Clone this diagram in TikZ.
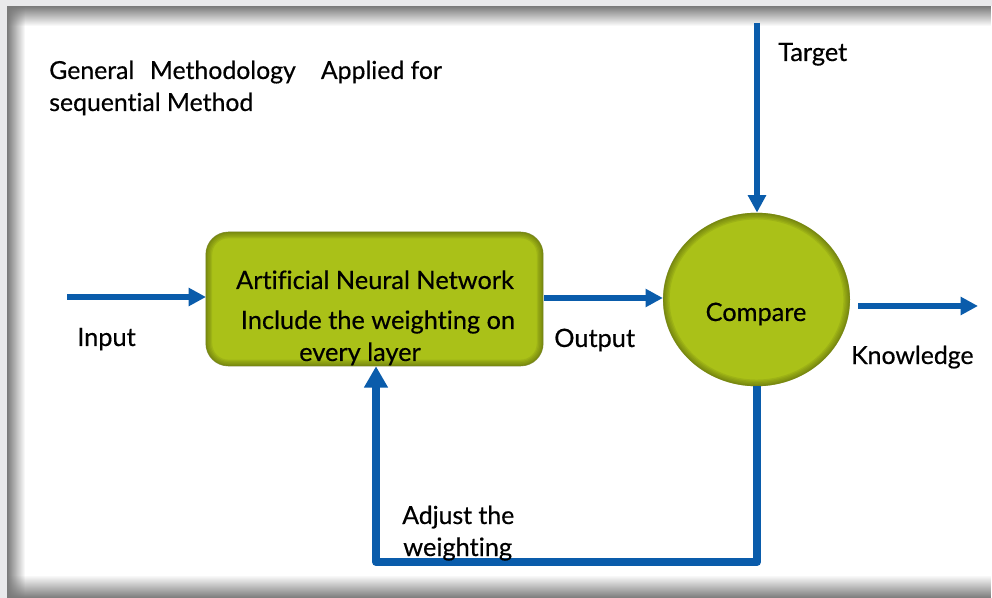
\documentclass[tikz,border=0pt]{standalone}
\usepackage{fontspec}
\setmainfont{Lato}[Ligatures=NoCommon,FakeBold=0.45]
\usetikzlibrary{arrows.meta,shapes.geometric,fadings}
\definecolor{flowblue}{HTML}{0A5CAB}
\definecolor{olive}{HTML}{AAC118}
\definecolor{olivedark}{HTML}{5F6C0E}
\definecolor{pagebg}{HTML}{E9E9EB}
\definecolor{edgegray}{HTML}{7A7A7A}
\tikzset{
  x=0.75pt,y=-0.75pt,
  flowthin/.style={draw=flowblue,line width=4pt,-{Triangle[length=13pt,width=13pt]}},
  flowthick/.style={draw=flowblue,line width=6pt,line join=round,-{Triangle[length=16pt,width=17pt]}},
  lbl/.style={font=\fontsize{19pt}{22pt}\selectfont,text=black,inner sep=0pt,align=left},
  lbls/.style={font=\fontsize{18.6pt}{22pt}\selectfont,text=black,inner sep=0pt,align=left},
  greenbox/.style={fill=olive,rounded corners=17pt,minimum width=253pt,minimum height=100.5pt,inner sep=0pt},
  greencirc/.style={ellipse,fill=olive,minimum width=140pt,minimum height=130pt,inner sep=0pt},
  glow/.style={draw=olivedark,opacity=.16,line width=#1},
}
\begin{document}
\begin{tikzpicture}
\useasboundingbox (0,0) rectangle (992,598);
\fill[pagebg] (0,0) rectangle (992,598);
\fill[white] (7,6) rectangle (992,598);
\fill[edgegray,path fading=south] (7,6) rectangle (992,26);
\fill[edgegray,path fading=east] (7,6) rectangle (25,598);
\fill[edgegray,path fading=north] (7,575) rectangle (992,598);
\node[greenbox] (ann) at (374.5,299) {};
\node[greencirc] (cmp) at (756.5,299.5) {};
\begin{scope}
  \clip[rounded corners=17pt] (ann.south west) rectangle (ann.north east);
  \foreach \w in {1.5pt,2.5pt,4pt,6pt,8pt,10pt}
    \draw[glow=\w,rounded corners=17pt] (ann.south west) rectangle (ann.north east);
\end{scope}
\begin{scope}
  \clip (756.5,299.5) ellipse [x radius=93.5,y radius=86.7];
  \foreach \w in {1.5pt,2.5pt,4pt,6pt,8pt,10pt}
    \draw[glow=\w] (756.5,299.5) ellipse [x radius=93.5,y radius=86.7];
\end{scope}
\coordinate (inS) at (67,297);
\coordinate (inE) at (206,297);
\coordinate (tS) at (757,23);
\coordinate (kS) at (858,306);
\coordinate (kE) at (978,306);
\coordinate (corR) at (757,562);
\coordinate (corL) at (376,562);
\coordinate (annOut) at (544,298);
\draw[flowthin] (inS) -- (inE);
\draw[flowthin] (annOut) -- (cmp.west |- annOut);
\draw[flowthin] (tS) -- (tS |- cmp.north);
\draw[flowthin] (kS) -- (kE);
\draw[flowthick] (corR |- cmp.south) -- (corR) -- (corL) -- (ann.south -| corL);
\node[lbls,anchor=base west] (title1) at (49,79) {General\ \ \hspace{2.2pt}Methodology\ \ \ \hspace{4.5pt}Applied for};
\node[lbls,anchor=base west] (title2) at (49,111) {sequential Method};
\node[lbl,anchor=base west] (target) at (778,61) {Target};
\node[lbl,anchor=base] (annT) at (375,289) {Artificial Neural Network};
\node[lbl,anchor=base] (annI) at (378,329) {Include the weighting on};
\node[lbl,anchor=base] (annL) at (360,361) {every layer};
\node[lbl,anchor=base west] (input) at (77,346) {Input};
\node[lbl,anchor=base west] (output) at (554,347) {Output};
\node[lbl,anchor=base] (compare) at (756,321) {Compare};
\node[lbls,anchor=base west] (know) at (851,364) {Knowledge};
\node[lbls,anchor=base west] (adj1) at (402,524) {Adjust the};
\node[lbl,anchor=base west] (adj2) at (403,556) {weighting};
\end{tikzpicture}
\end{document}
